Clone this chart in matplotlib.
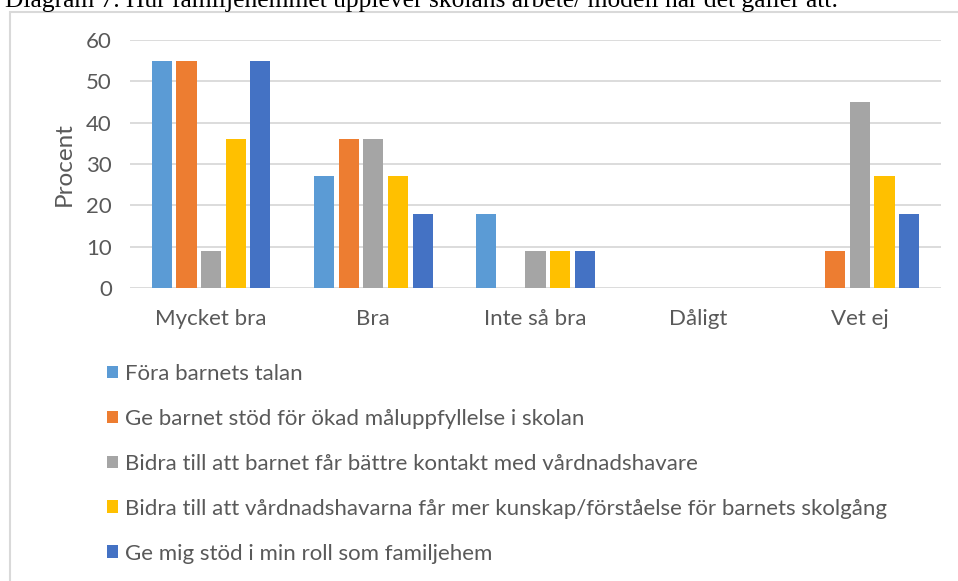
import numpy as np
import matplotlib
matplotlib.use("Agg")
import matplotlib.pyplot as plt
from matplotlib.patches import Rectangle, Patch

plt.rcParams['font.family'] = ['Lato', 'DejaVu Sans']

kategorier = ["Mycket bra", "Bra", "Inte så bra", "Dåligt", "Vet ej"]
serier = [
    "Föra barnets talan",
    "Ge barnet stöd för ökad måluppfyllelse i skolan",
    "Bidra till att barnet får bättre kontakt med vårdnadshavare",
    "Bidra till att vårdnadshavarna får mer kunskap/förståelse för barnets skolgång",
    "Ge mig stöd i min roll som familjehem",
]
fora_talan = [55, 27, 18, 0, 0]
maluppfyllelse = [55, 36, 0, 0, 9]
kontakt = [9, 36, 9, 0, 45]
kunskap = [36, 27, 9, 0, 27]
familjehem = [55, 18, 9, 0, 18]
varden = [fora_talan, maluppfyllelse, kontakt, kunskap, familjehem]
farger = ["#5B9BD5", "#ED7D31", "#A5A5A5", "#FFC000", "#4472C4"]

textfarg = "#595959"
gridfarg = "#D9D9D9"

fig = plt.figure(figsize=(9.58, 5.81), dpi=100)
ax = fig.add_axes([130/958, 1-288/581, (941-130)/958, (288-40)/581])

x = np.arange(len(kategorier))
slot = 0.152
bredd = 0.124
for i, (v, f) in enumerate(zip(varden, farger)):
    ax.bar(x + (i - 2) * slot, v, bredd, color=f, zorder=3)

ax.set_xlim(-0.5, 4.5)
ax.set_ylim(0, 60)
ax.set_yticks(range(0, 61, 10))
ax.set_xticks(x)
ax.set_xticklabels(kategorier)
ax.grid(axis='y', color=gridfarg, linewidth=1.3, zorder=0)
for s in ax.spines.values():
    s.set_visible(False)
ax.tick_params(length=0, labelsize=16, labelcolor=textfarg)
ax.tick_params(axis='x', pad=15)
ax.tick_params(axis='y', pad=13)
ax.set_ylabel("Procent", fontsize=17.5, color=textfarg, labelpad=8)

handles = [Patch(facecolor=f, edgecolor='none') for f in farger]
fig.legend(handles, serier, loc='upper left', bbox_to_anchor=(87/958, 1-344/581),
           frameon=False, fontsize=16, labelcolor=textfarg, labelspacing=1.12,
           handlelength=0.5, handleheight=0.5, handletextpad=0.3)

# ram runt diagrammet
fig.add_artist(Rectangle((10/958, -0.01), 1.0, 1-12/581 + 0.01, transform=fig.transFigure,
                         fill=False, edgecolor=gridfarg, linewidth=1.5))

fig.text(5/958, 1-7/581, "Diagram 7. Hur familjehemmet upplever skolans arbete/ modell när det gäller att:",
         family='Liberation Serif', fontsize=18.4, va='baseline', color='black')

fig.savefig("out.png", dpi=100)
